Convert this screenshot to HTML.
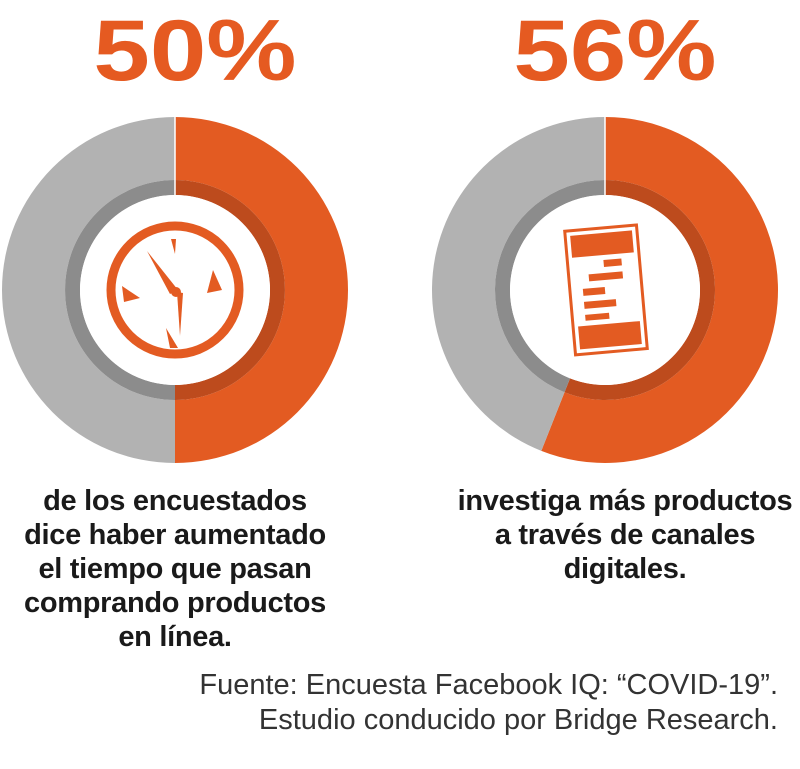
<!DOCTYPE html>
<html><head><meta charset="utf-8"><style>
body{margin:0;width:800px;height:769px;background:#fff;overflow:hidden;font-family:"Liberation Sans",sans-serif;position:relative}
.big{position:absolute;top:6px;font-weight:bold;font-size:86px;line-height:90px;color:#e55a21;letter-spacing:0px;transform:scaleX(1.18);transform-origin:center;width:300px;text-align:center}
.cap{position:absolute;font-size:29px;line-height:34px;color:#1a1a1a;text-align:center;width:420px;font-weight:bold;letter-spacing:-0.3px}
.src{position:absolute;right:22px;top:668px;font-size:29px;line-height:35px;color:#333;text-align:right;letter-spacing:0px}
</style></head><body>
<div class="big" style="left:45px">50%</div>
<div class="big" style="left:465px">56%</div>
<svg id="chart" width="800" height="769" style="position:absolute;left:0;top:0"></svg>
<div class="cap" style="left:-35px;top:484px">de los encuestados<br>dice haber aumentado<br>el tiempo que pasan<br>comprando productos<br>en línea.</div>
<div class="cap" style="left:415px;top:484px">investiga más productos<br>a través de canales<br>digitales.</div>
<div class="src">Fuente: Encuesta Facebook IQ: “COVID-19”.<br>Estudio conducido por Bridge Research.</div>
<script>
const NS="http://www.w3.org/2000/svg";
const labels=["aumento-tiempo","investiga-digital"];
const values=[50,56];
const centersX=[175,605];
const svg=document.getElementById('chart');
function mk(t,a){const e=document.createElementNS(NS,t);for(const k in a)e.setAttribute(k,a[k]);svg.appendChild(e);return e;}
function pt(cx,cy,r,ang){return [cx+r*Math.sin(ang),cy-r*Math.cos(ang)];}
function arc(cx,cy,r0,r1,a0,a1){
 const l=(a1-a0)>Math.PI?1:0;
 const p0=pt(cx,cy,r1,a0),p1=pt(cx,cy,r1,a1),p2=pt(cx,cy,r0,a1),p3=pt(cx,cy,r0,a0);
 return `M${p0}A${r1},${r1} 0 ${l} 1 ${p1}L${p2}A${r0},${r0} 0 ${l} 0 ${p3}Z`;}
values.forEach((v,i)=>{
 const cx=centersX[i],cy=290,a=v/100*2*Math.PI;
 let e;
 e=mk('path',{d:arc(cx,cy,110,173,0,a),fill:'#e35b22'});
 
 
 e=mk('path',{d:arc(cx,cy,110,173,a,2*Math.PI),fill:'#b2b2b2'});
 
 
 e=mk('path',{d:arc(cx,cy,95,110,0,a),fill:'#bd4b1d'});
 
 
 e=mk('path',{d:arc(cx,cy,95,110,a,2*Math.PI),fill:'#8c8c8c'});
 
 
 e=mk('circle',{cx:cx,cy:cy,r:95,fill:'#fff'});
 
 
 e=mk('line',{x1:cx,y1:cy-173,x2:cx,y2:cy-95,stroke:'#fff','stroke-width':1.5});
 
 
});
const g1=document.createElementNS(NS,'g');g1.setAttribute('fill','#e35b22');svg.appendChild(g1);


g1.innerHTML='<circle cx="175" cy="290" r="64" fill="none" stroke="#e35b22" stroke-width="9"/>'+
'<polygon points="171,239 176,239 175,254"/><polygon points="213,270 222,290 207,293"/><polygon points="122,286 140,298 124,302"/><polygon points="166,328 178,348 170,348"/>'+
'<polygon points="147,251 178,290 170,294"/><polygon points="177,292 183,293 180,336"/><circle cx="176" cy="292" r="5"/>';
const g2=document.createElementNS(NS,'g');g2.setAttribute('transform','rotate(-5 605 290)');svg.appendChild(g2);


g2.innerHTML='<rect x="570" y="228" width="72" height="124" fill="none" stroke="#e35b22" stroke-width="3"/>'+
'<rect x="575" y="233" width="62" height="22" fill="#e35b22"/><rect x="575" y="324" width="62" height="23" fill="#e35b22"/>'+
'<rect x="606" y="260" width="18" height="7" fill="#e35b22"/><rect x="590" y="273" width="34" height="7" fill="#e35b22"/>'+
'<rect x="583" y="287" width="22" height="7" fill="#e35b22"/><rect x="583" y="300" width="32" height="7" fill="#e35b22"/><rect x="583" y="313" width="24" height="6" fill="#e35b22"/>';
</script>
</body></html>
